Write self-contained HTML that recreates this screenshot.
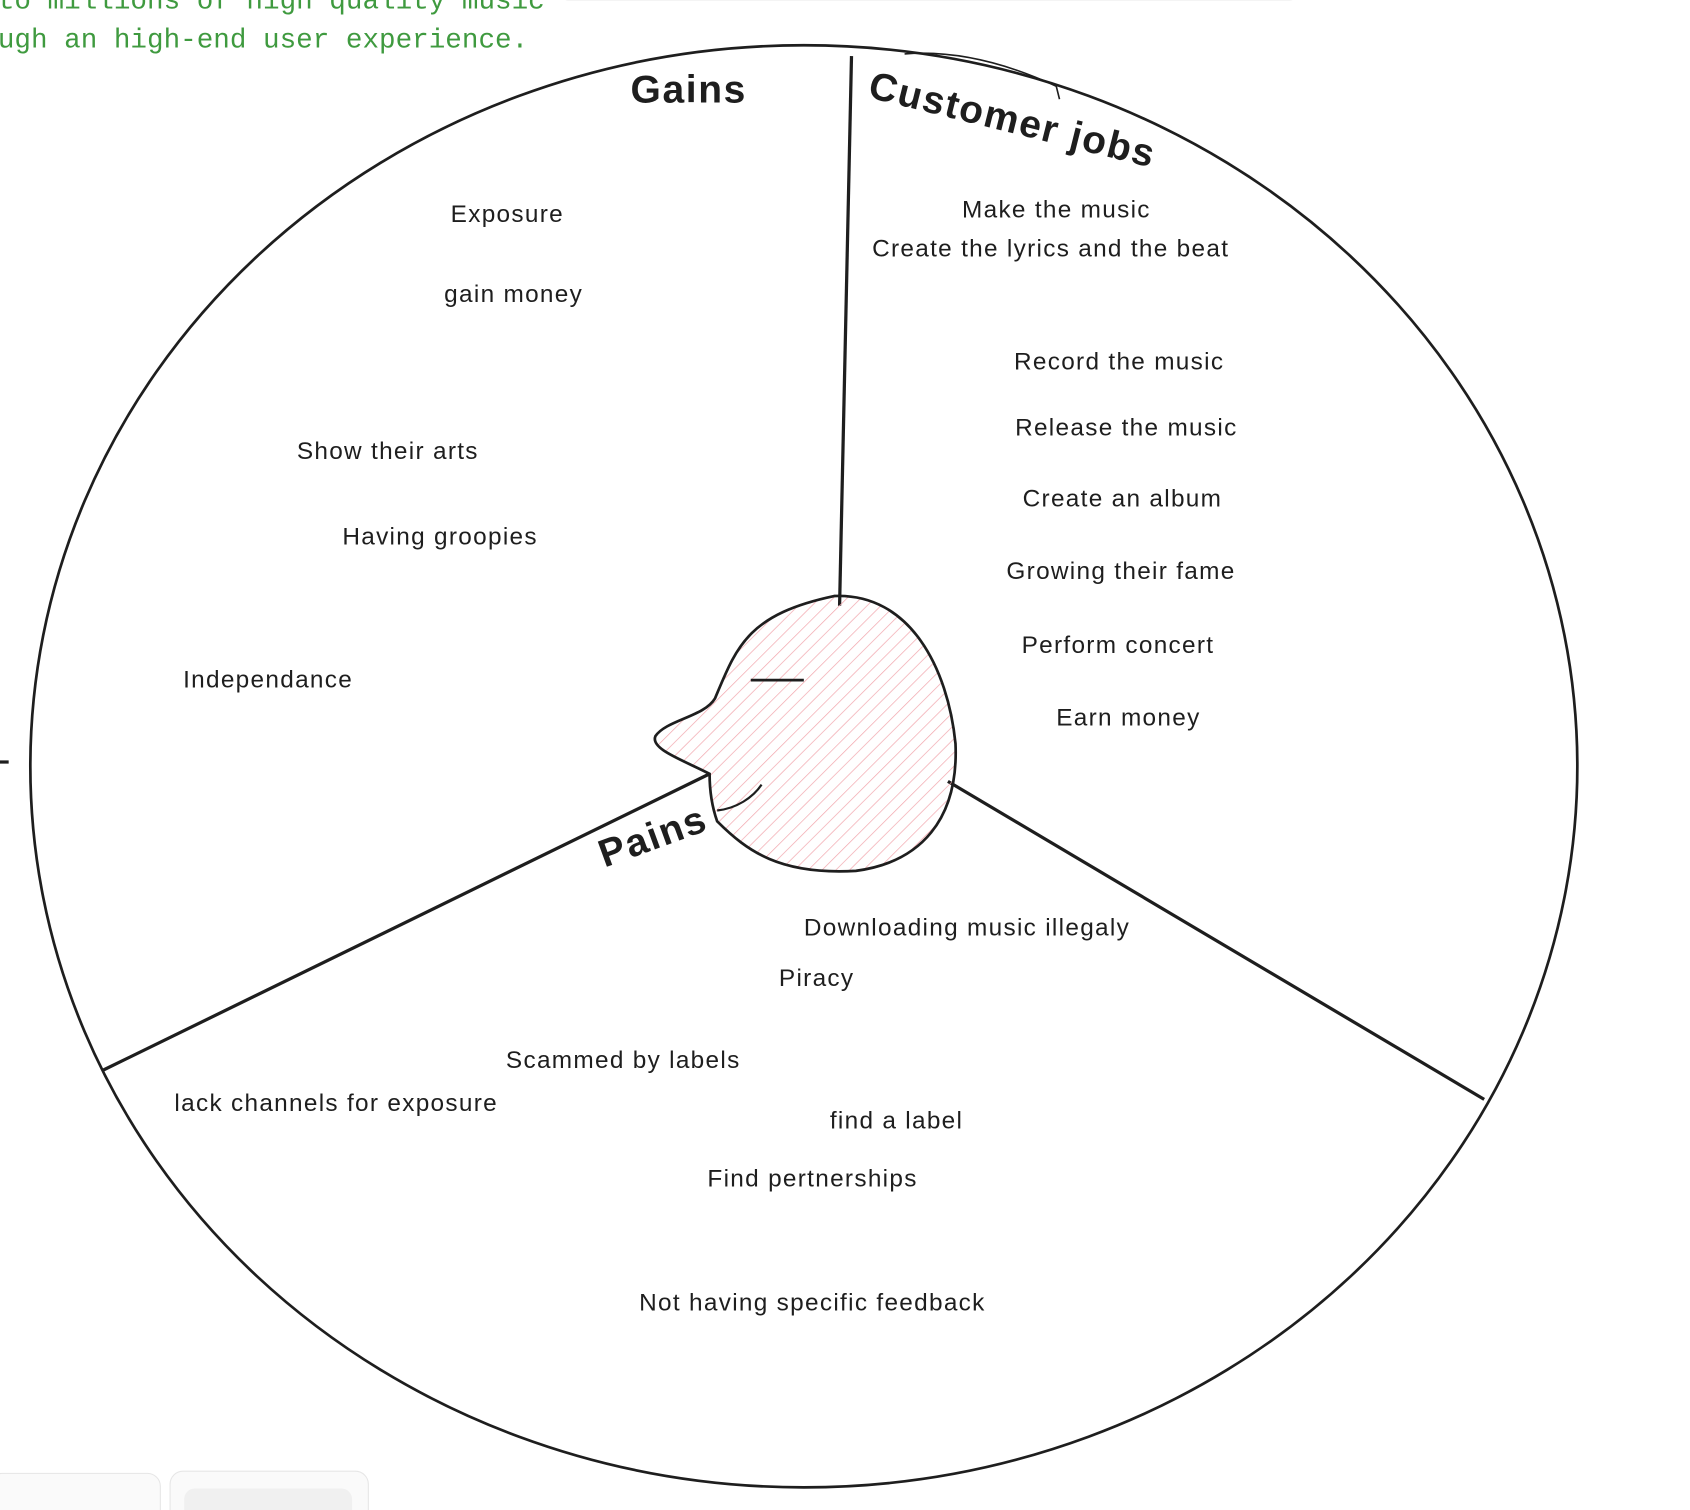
<!DOCTYPE html>
<html><head><meta charset="utf-8"><style>
html,body{margin:0;padding:0;background:#fff;width:1690px;height:1510px;overflow:hidden}
svg{display:block}
.t{font-family:"Liberation Sans",sans-serif;font-size:22.5px;letter-spacing:1.2px;fill:#1e1e1e}
.h{font-family:"Liberation Sans",sans-serif;font-size:36px;font-weight:bold;letter-spacing:1.5px;fill:#1e1e1e}
.g{font-family:"Liberation Mono",monospace;font-size:25.5px;fill:#3f9a3f}
</style></head><body>
<svg width="1690" height="1510" viewBox="0 0 1560 1401" preserveAspectRatio="none">
<defs><pattern id="hp" width="9" height="9" patternUnits="userSpaceOnUse" patternTransform="rotate(45)"><line x1="0" y1="0" x2="0" y2="9" stroke="#f2a6ad" stroke-width="1.3"/></pattern></defs>
<text class="g" x="-2" y="8">to millions of high quality music</text>
<text class="g" x="-2" y="44">ugh an high-end user experience.</text>
<rect x="515" y="-20" width="685" height="20" rx="10" fill="#fff" stroke="#e8e8e8"/>
<ellipse cx="742" cy="711" rx="714" ry="669" fill="none" stroke="#1e1e1e" stroke-width="2.5"/>
<path d="M835 50 Q900 45 975 80 L978 92" fill="none" stroke="#1e1e1e" stroke-width="1.5"/>
<line x1="786" y1="52" x2="775" y2="562" stroke="#1e1e1e" stroke-width="3"/>
<line x1="875" y1="725" x2="1370" y2="1020" stroke="#1e1e1e" stroke-width="3"/>
<line x1="95" y1="993" x2="655" y2="718" stroke="#1e1e1e" stroke-width="3"/>
<line x1="0" y1="707" x2="8" y2="707" stroke="#1e1e1e" stroke-width="3"/>
<path d="M655 718 C630 705 600 695 605 683 C615 668 650 665 660 648 C680 600 690 570 770 553 C840 550 875 620 882 690 C885 760 850 800 790 808 C720 812 690 790 662 762 C656 745 655 730 655 718 Z" fill="url(#hp)" stroke="#1e1e1e" stroke-width="2.5"/>
<line x1="693" y1="631" x2="742" y2="631" stroke="#1e1e1e" stroke-width="2.5"/>
<path d="M662 752 C680 750 695 740 703 728" fill="none" stroke="#1e1e1e" stroke-width="2"/>
<text class="h" x="582" y="95">Gains</text>
<text class="h" x="800" y="90" transform="rotate(14 800 90)">Customer jobs</text>
<text class="h" x="558" y="805" transform="rotate(-20 558 805)">Pains</text>
<text class="t" x="416" y="206">Exposure</text>
<text class="t" x="410" y="280">gain money</text>
<text class="t" x="274" y="426">Show their arts</text>
<text class="t" x="316" y="505">Having groopies</text>
<text class="t" x="169" y="638">Independance</text>
<text class="t" x="888" y="202">Make the music</text>
<text class="t" x="805" y="238">Create the lyrics and the beat</text>
<text class="t" x="936" y="343">Record the music</text>
<text class="t" x="937" y="404">Release the music</text>
<text class="t" x="944" y="470">Create an album</text>
<text class="t" x="929" y="537">Growing their fame</text>
<text class="t" x="943" y="606">Perform concert</text>
<text class="t" x="975" y="673">Earn money</text>
<text class="t" x="742" y="868">Downloading music illegaly</text>
<text class="t" x="719" y="915">Piracy</text>
<text class="t" x="467" y="991">Scammed by labels</text>
<text class="t" x="161" y="1031">lack channels for exposure</text>
<text class="t" x="766" y="1047">find a label</text>
<text class="t" x="653" y="1101">Find pertnerships</text>
<text class="t" x="590" y="1216">Not having specific feedback</text>
<rect x="-10" y="1367" width="158" height="60" rx="12" fill="#fafafa" stroke="#e6e6e6"/>
<rect x="157" y="1365" width="183" height="60" rx="12" fill="#fafafa" stroke="#e6e6e6"/>
<rect x="170" y="1381" width="155" height="40" rx="10" fill="#f0f0f0"/>
</svg>
</body></html>
